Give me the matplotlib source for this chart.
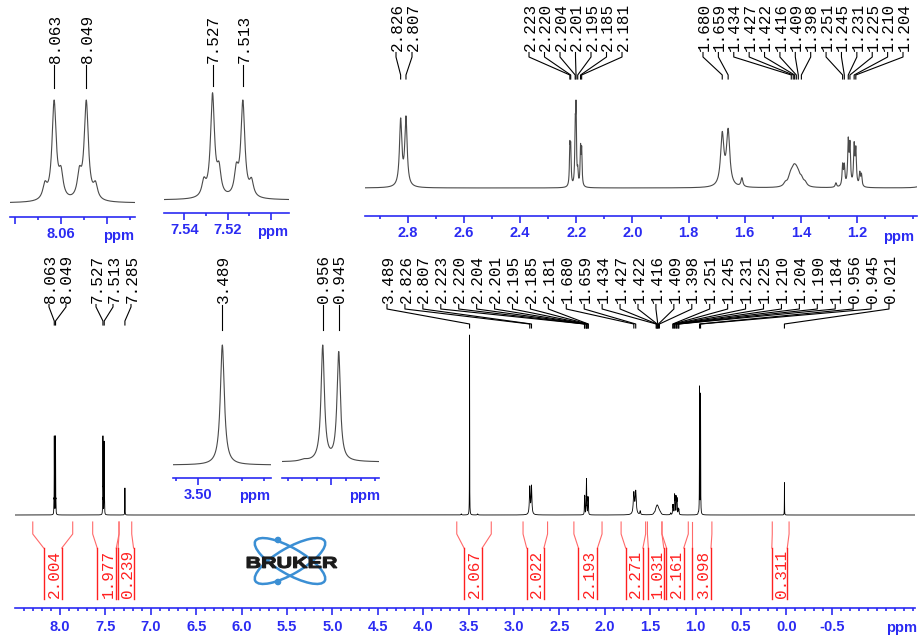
import numpy as np
import matplotlib
matplotlib.use("Agg")
import matplotlib.pyplot as plt
from matplotlib.patches import Ellipse, Circle, PathPatch
from matplotlib.textpath import TextPath
from matplotlib.font_manager import FontProperties
from matplotlib.transforms import Affine2D

plt.rcParams["font.family"] = ["Liberation Sans", "DejaVu Sans"]

W, H = 918, 637
BLUE = "#2b2bf2"
RED = "#ff2020"
MONO = "Liberation Mono"

# ---- spectrum peaks: position (ppm), height (3.489 = 1), half width (ppm)
peak_ppm = [8.067, 8.063, 8.060, 8.052, 8.049, 8.045,
            7.531, 7.527, 7.524, 7.516, 7.513, 7.509,
            7.285,
            3.58, 3.489, 3.40,
            2.826, 2.807,
            2.223, 2.220, 2.204, 2.201, 2.195, 2.185, 2.181,
            1.680, 1.659, 1.610,
            1.455, 1.440, 1.434, 1.427, 1.422, 1.416, 1.409, 1.398, 1.385,
            1.275, 1.251, 1.245, 1.231, 1.225, 1.210, 1.204, 1.190, 1.184,
            0.969, 0.956, 0.945,
            0.021]
peak_height = [0.06, 0.42, 0.10, 0.10, 0.42, 0.06,
               0.06, 0.42, 0.10, 0.10, 0.39, 0.06,
               0.15,
               0.006, 1.0, 0.006,
               0.152, 0.157,
               0.085, 0.08, 0.12, 0.165, 0.03, 0.085, 0.08,
               0.118, 0.126, 0.02,
               0.008, 0.012, 0.016, 0.018, 0.019, 0.019, 0.018, 0.015, 0.009,
               0.01, 0.048, 0.045, 0.10, 0.09, 0.09, 0.08, 0.03, 0.027,
               0.01, 0.706, 0.666,
               0.18]
peak_hwhm = ([0.0011] * 12 + [0.0012] + [0.004, 0.0011, 0.004] + [0.005, 0.005]
             + [0.0018] * 7 + [0.007, 0.007, 0.004] + [0.0075] * 9
             + [0.003] + [0.0025] * 8 + [0.003, 0.0014, 0.0014] + [0.001])

# ---- peak picking labels
inset1_marks = [8.063, 8.049]
inset2_marks = [7.527, 7.513]
inset3_marks = [2.826, 2.807, 2.223, 2.220, 2.204, 2.201, 2.195, 2.185, 2.181,
                1.680, 1.659, 1.434, 1.427, 1.422, 1.416, 1.409, 1.398,
                1.251, 1.245, 1.231, 1.225, 1.210, 1.204]
inset4_marks = [3.489]
inset5_marks = [0.956, 0.945]
main_left_marks = [8.063, 8.049, 7.527, 7.513, 7.285]
main_right_marks = [3.489, 2.826, 2.807, 2.223, 2.220, 2.204, 2.201, 2.195, 2.185,
                    2.181, 1.680, 1.659, 1.434, 1.427, 1.422, 1.416, 1.409, 1.398,
                    1.251, 1.245, 1.231, 1.225, 1.210, 1.204, 1.190, 1.184,
                    0.956, 0.945, 0.021]

# ---- integrals: value, outer range, inner range (ppm)
integral_values = [2.004, 1.977, 0.239, 2.067, 2.022, 2.193, 2.271, 1.031, 2.161, 3.098, 0.311]
integral_outer = [(8.30, 7.86), (7.64, 7.35), (7.35, 7.21), (3.63, 3.25), (2.90, 2.63),
                  (2.34, 2.03), (1.82, 1.55), (1.53, 1.37), (1.37, 1.08), (1.04, 0.82),
                  (0.155, -0.03)]
integral_inner = [(8.18, 7.98), (7.59, 7.38), (7.36, 7.19), (3.55, 3.35), (2.86, 2.67),
                  (2.29, 2.08), (1.77, 1.58), (1.52, 1.35), (1.32, 1.13), (1.04, 0.83),
                  (0.16, -0.01)]


def spectrum(x):
    y = np.zeros_like(x)
    for p, h, w in zip(peak_ppm, peak_height, peak_hwhm):
        y += h * w * w / ((x - p) ** 2 + w * w)
    return y


fig = plt.figure(figsize=(W / 100, H / 100), dpi=100)
ov = fig.add_axes([0, 0, 1, 1])
ov.set_xlim(0, W)
ov.set_ylim(H, 0)
ov.axis("off")


def add_spectrum(x0, x1, y_axis, y_base, y_peak, xlim, majors, labels, minors,
                 color="#4a4a4a", lw=0.8, n=6000, pad=1.9):
    y_top = y_peak - 8
    ax = fig.add_axes([x0 / W, 1 - y_axis / H, (x1 - x0) / W, (y_axis - y_top) / H])
    ax.set_xlim(xlim)
    grid = np.linspace(xlim[0], xlim[1], n)
    y = spectrum(grid)
    s = y.max() / (y_base - y_peak)
    ax.set_ylim(-(y_axis - y_base) * s, (y_base - y_top) * s)
    ax.plot(grid, y, color=color, lw=lw)
    for side in ["top", "left", "right"]:
        ax.spines[side].set_visible(False)
    ax.spines["bottom"].set_color(BLUE)
    ax.spines["bottom"].set_linewidth(1.2)
    ax.set_yticks([])
    ax.set_xticks(majors, labels=labels)
    ax.set_xticks(minors, minor=True)
    ax.tick_params(axis="x", which="major", length=5, width=1.2, color=BLUE,
                   labelcolor=BLUE, labelsize=10.5, pad=pad)
    ax.tick_params(axis="x", which="minor", length=2.4, width=1.2, color=BLUE)
    for t in ax.get_xticklabels():
        t.set_fontweight("bold")
    ax.patch.set_visible(False)
    return ax


def px(ax, v):
    return ax.transData.transform((v, 0))[0]


def peak_labels(ax, marks, xs, y_text, y_a, y_b, y_c, size=11.5):
    for i, v in enumerate(marks):
        p = px(ax, v)
        lx = p if xs is None else xs[i]
        ov.plot([lx, lx, p, p], [y_text + 1.5, y_a, y_b, y_c], color="black", lw=0.8)
        ov.text(lx + 1, y_text, f"{v:.3f}", rotation=90, ha="center", va="bottom",
                family=MONO, fontsize=size)


# main spectrum
main = add_spectrum(15, 915, 608, 515, 335, (8.4956, -1.417),
                    [8.0, 7.5, 7.0, 6.5, 6.0, 5.5, 5.0, 4.5, 4.0, 3.5, 3.0, 2.5, 2.0,
                     1.5, 1.0, 0.5, 0.0, -0.5],
                    ["8.0", "7.5", "7.0", "6.5", "6.0", "5.5", "5.0", "4.5", "4.0", "3.5",
                     "3.0", "2.5", "2.0", "1.5", "1.0", "0.5", "0.0", "-0.5"],
                    np.arange(8.4, -1.45, -0.1), color="black", lw=0.6, n=200000, pad=3.3)
ov.text(902, 628, "ppm", color=BLUE, fontsize=10.5, fontweight="bold", ha="center", va="center")

# expansions
ax1 = add_spectrum(10, 135, 217, 203, 100, (8.0822, 8.0278), [8.08, 8.06, 8.04],
                   ["", "8.06", ""], [8.07, 8.05, 8.03])
ov.text(119, 236, "ppm", color=BLUE, fontsize=10.5, fontweight="bold", ha="center", va="center")
ax2 = add_spectrum(164, 289, 213, 200, 92.7, (7.5494, 7.4917), [7.54, 7.52, 7.50],
                   ["7.54", "7.52", ""], [7.53, 7.51])
ov.text(273, 232, "ppm", color=BLUE, fontsize=10.5, fontweight="bold", ha="center", va="center")
ax3 = add_spectrum(365, 917, 216, 188, 100, (2.953, 0.986),
                   [2.8, 2.6, 2.4, 2.2, 2.0, 1.8, 1.6, 1.4, 1.2],
                   ["2.8", "2.6", "2.4", "2.2", "2.0", "1.8", "1.6", "1.4", "1.2"],
                   [2.9, 2.7, 2.5, 2.3, 2.1, 1.9, 1.7, 1.5, 1.3, 1.1, 1.0], n=20000, pad=2.5)
ov.text(899, 237, "ppm", color=BLUE, fontsize=10.5, fontweight="bold", ha="center", va="center")
ax4 = add_spectrum(173, 271, 478, 465, 345, (3.5116, 3.4667), [3.50], ["3.50"],
                   [3.51, 3.49, 3.48, 3.47])
ov.text(255, 496, "ppm", color=BLUE, fontsize=10.5, fontweight="bold", ha="center", va="center")
ax5 = add_spectrum(282, 379, 478, 462, 345, (0.984, 0.9173), [0.95], [""],
                   [0.98, 0.97, 0.96, 0.94, 0.93, 0.92])
ov.text(365, 496, "ppm", color=BLUE, fontsize=10.5, fontweight="bold", ha="center", va="center")

# peak labels
peak_labels(ax1, inset1_marks, None, 63, 88, 88, 88)
peak_labels(ax2, inset2_marks, None, 63, 86, 86, 86)
ax3_x = np.concatenate([np.linspace(396, 412, 2), np.linspace(529, 622, 7),
                        np.linspace(703, 903, 14)])
peak_labels(ax3, inset3_marks, ax3_x, 51, 57, 75, 79)
peak_labels(ax4, inset4_marks, None, 303, 330, 330, 330)
peak_labels(ax5, inset5_marks, None, 303, 330, 330, 330)
peak_labels(main, main_left_marks, [49, 66, 96, 113, 131], 303, 307, 321, 325)
peak_labels(main, main_right_marks, np.linspace(387, 889, 29), 303, 309, 324, 328)

# integrals
for val, (o1, o2), (i1, i2) in zip(integral_values, integral_outer, integral_inner):
    xo1, xo2, xi1, xi2 = [px(main, v) for v in (o1, o2, i1, i2)]
    ov.plot([xo1, xo1, xi1], [522, 534, 548], color="#ff6a6a", lw=0.8)
    ov.plot([xo2, xo2, xi2], [522, 534, 548], color="#ff6a6a", lw=0.8)
    ov.plot([xi1, xi1], [548, 599], color=RED, lw=1)
    ov.plot([xi2, xi2], [548, 599], color=RED, lw=1)
    ov.text((xi1 + xi2) / 2 + 1.5, 598, f"{val:.3f}", rotation=90, ha="center", va="bottom",
            color=RED, family=MONO, fontsize=11.5)

# Bruker logo
logo_blue = "#3b8fd4"
for ang in (30, -30):
    ov.add_patch(Ellipse((290, 561), 80, 26, angle=ang, fill=False, ec=logo_blue, lw=1.8))
for cy in (540, 582):
    ov.add_patch(Circle((278, cy), 2.6, color=logo_blue))
tp = TextPath((0, 0), "BRUKER", size=20, prop=FontProperties(family="Liberation Sans", weight="bold"))
bb = tp.get_extents()
tr = Affine2D().translate(-bb.x0, -bb.y0).scale(90 / bb.width, -11 / bb.height).translate(247, 568)
ov.add_patch(PathPatch(tr.transform_path(tp), fc="#1a1a1a", ec="#1a1a1a", lw=0.8))

fig.savefig("out.png", dpi=100, facecolor="white")
